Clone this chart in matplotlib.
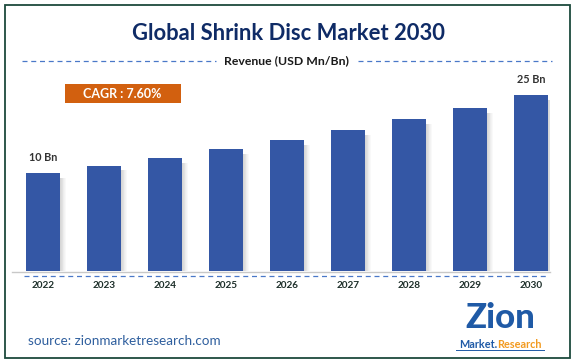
import matplotlib.pyplot as plt
from matplotlib.patches import Rectangle
import numpy as np

W, H = 575, 364

years = ['2022', '2023', '2024', '2025', '2026', '2027', '2028', '2029', '2030']
revenue = [10.0, 11.4, 12.9, 14.6, 16.3, 18.3, 20.4, 22.5, 25.0]
value_labels = {0: '10 Bn', 8: '25 Bn'}
cagr_text = 'CAGR : 7.60%'

BAR = '#3457a5'
NAVY = '#0f2b66'
plt.rcParams['font.family'] = ['Lato', 'DejaVu Sans']


def fx(x):
    return x / W


def fy(y):
    return 1 - y / H


fig = plt.figure(figsize=(W / 100, H / 100), dpi=100)
fig.patch.set_facecolor('white')

# outer frame
fig.patches.append(Rectangle((fx(5), fy(358)), fx(565), 353 / H, transform=fig.transFigure,
                             fill=False, edgecolor='#1c4a3d', linewidth=1.3))

# title + subtitle
fig.text(fx(289), fy(34), 'Global Shrink Disc Market 2030', ha='center', va='center',
         fontsize=15.8, fontweight='bold', color=NAVY)
fig.text(fx(286), fy(61), 'Revenue (USD Mn/Bn)', ha='center', va='center',
         fontsize=8.8, fontweight='bold', color='#1a1a1a')
for x0, x1 in [(22, 216), (358, 552)]:
    fig.add_artist(plt.Line2D([fx(x0), fx(x1)], [fy(61), fy(61)], transform=fig.transFigure,
                              color='#4a78c8', linewidth=0.9, linestyle=(0, (4, 3))))

# bar axes: baseline at y=271, top value at y=95
base = -8.85
ax = fig.add_axes([fx(12), fy(271), fx(538), (271 - 95) / H])
x = np.arange(len(years))
heights = np.array(revenue) - base
bw = 0.57
# soft shadow on the right of each bar
for k in range(7):
    ax.bar(x + bw / 2 + 0.012 * k + 0.006, heights - 0.9, bottom=base, width=0.012,
           color='#808080', alpha=0.32 * (1 - k / 7), linewidth=0, zorder=1)
ax.bar(x, heights, bottom=base, width=bw, color=BAR, linewidth=0, zorder=2)
ax.set_xlim(-0.508, 8.31)
ax.set_ylim(base, 25)
ax.axis('off')

for i, lab in value_labels.items():
    ax.annotate(lab, (x[i], revenue[i]), xytext=(0, 7), textcoords='offset points',
                ha='center', va='bottom', fontsize=7.8, fontweight='bold', color='#333333')

# axis line + dashed line under the bars
fig.add_artist(plt.Line2D([fx(12), fx(550)], [fy(271.5), fy(271.5)], transform=fig.transFigure,
                          color='#c8c8c8', linewidth=1))
fig.add_artist(plt.Line2D([fx(24), fx(547)], [fy(276), fy(276)], transform=fig.transFigure,
                          color='#4a78c8', linewidth=0.9, linestyle=(0, (4, 3))))
for i, yr in enumerate(years):
    xp = ax.transData.transform((x[i], 0))[0] / fig.dpi / fig.get_figwidth()
    fig.text(xp, fy(286), yr, ha='center', va='center', fontsize=7.2,
             fontweight='bold', color='#1d2f2a')

# CAGR box
fig.patches.append(Rectangle((fx(65), fy(103)), fx(116), 19 / H, transform=fig.transFigure,
                             facecolor='#d2600f', edgecolor='none'))
fig.text(fx(122), fy(93.5), cagr_text, ha='center', va='center', fontsize=9,
         fontweight='bold', color='white')

# source
fig.text(fx(28), fy(341), 'source: zionmarketresearch.com', ha='left', va='center',
         fontsize=9.7, color='#2f5f9e')

# logo (text approximation)
fig.text(fx(500), fy(318), 'Zion', ha='center', va='center', fontsize=25,
         fontweight='black', color='#1f5aa6')
fig.text(fx(478), fy(344), 'Market.', ha='center', va='center', fontsize=7.8,
         fontweight='bold', color='#1f5aa6')
fig.text(fx(519), fy(344), 'Research', ha='center', va='center', fontsize=7.8,
         fontweight='bold', color='#f29a1f')
fig.add_artist(plt.Line2D([fx(456), fx(544)], [fy(350), fy(350)], transform=fig.transFigure,
                          color='#1f5aa6', linewidth=0.7))

fig.savefig('out.png', dpi=100)
